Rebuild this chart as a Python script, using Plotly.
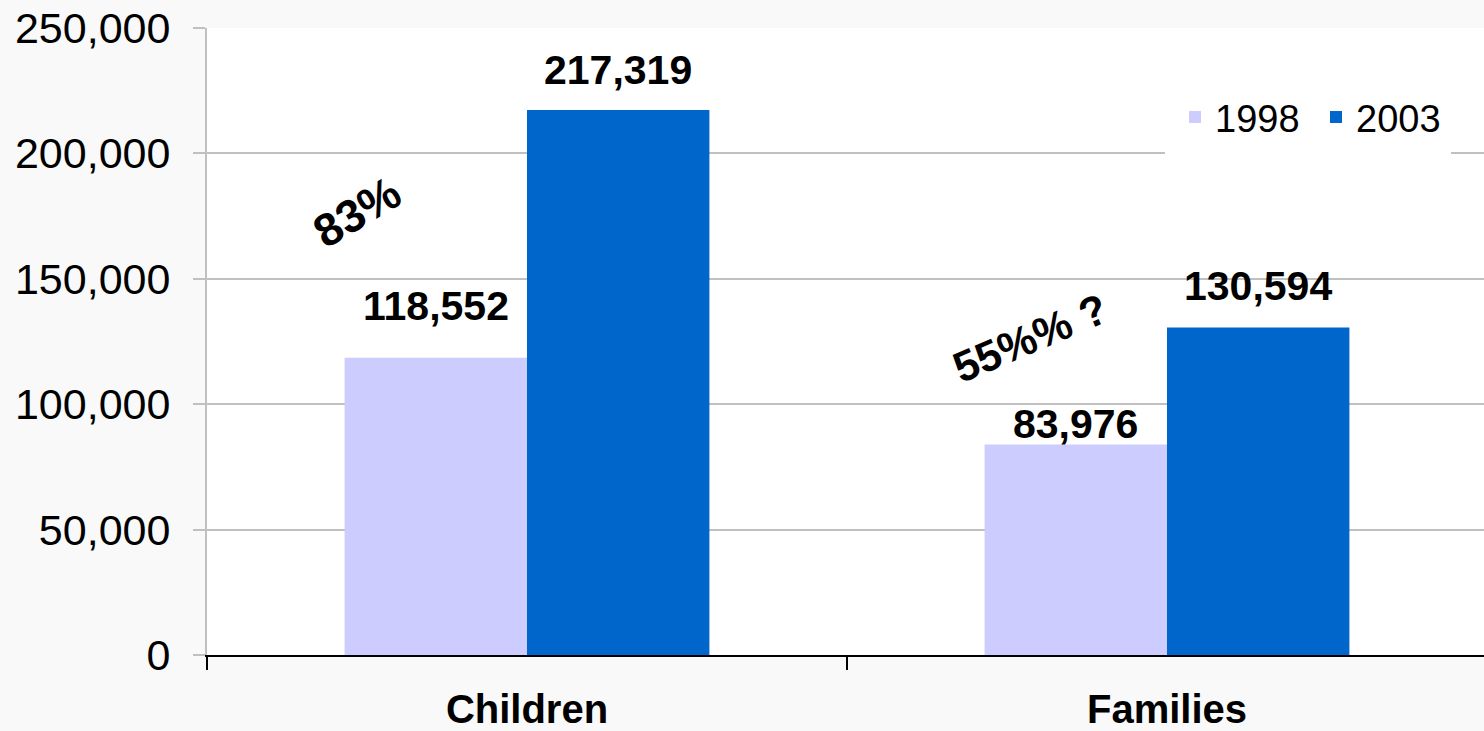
import plotly.graph_objects as go

# ---- data ----
categories = ["Children", "Families"]
years = ["1998", "2003"]
values_1998 = [118552, 83976]
values_2003 = [217319, 130594]
y_ticks = [0, 50000, 100000, 150000, 200000, 250000]
growth_labels = ["83%", "55%% ?"]

# ---- styles / positions ----
colors = ["#CCCCFF", "#0066CC"]
label_lift = [[52, 20], [40, 41]]          # px above bar top, per series / category
growth_x = [-0.266, 0.786]                  # category units
growth_y = [176600, 126400]                 # y units
growth_angle = [-31, -23]
growth_size = [46, 43]

FONT = "Liberation Sans, Arial, sans-serif"
W, H = 1484, 731
ML, MR, MT, MB = 207, 0, 28, 76
BARGAP = 0.43
CAT_PX = 640
plot_w = W - ML - MR
plot_h = H - MT - MB
half = (1 - BARGAP) / 4

fig = go.Figure()
series = [values_1998, values_2003]
for name, vals, col in zip(years, series, colors):
    fig.add_bar(name=name, x=categories, y=vals, marker_color=col,
                marker_line_width=0, hoverinfo="skip")

annotations = []
for s, vals in enumerate(series):
    off = -half if s == 0 else half
    for i, v in enumerate(vals):
        annotations.append(dict(
            x=i + off, y=v, xref="x", yref="y", text=f"{v:,}",
            showarrow=False, yanchor="middle", yshift=label_lift[s][i],
            font=dict(family=FONT, size=41, color="black", weight="bold")))

for t, gx, gy, ang, fs in zip(growth_labels, growth_x, growth_y, growth_angle, growth_size):
    annotations.append(dict(
        x=gx, y=gy, xref="x", yref="y", text=t, showarrow=False,
        textangle=ang,
        font=dict(family=FONT, size=fs, color="black", weight="bold")))

# white backing behind the legend (hides the grid line like the reference)
legend_box = dict(type="rect", xref="paper", yref="paper",
                  x0=(1165 - ML) / plot_w, x1=(1451 - ML) / plot_w,
                  y0=(H - MB - 166) / plot_h, y1=(H - MB - 92) / plot_h,
                  fillcolor="white", line=dict(width=0), layer="above")

fig.update_layout(
    width=W, height=H,
    margin=dict(l=ML, r=MR, t=MT, b=MB, pad=0, autoexpand=False),
    paper_bgcolor="#f9f9f9",
    plot_bgcolor="white",
    barmode="group", bargap=BARGAP, bargroupgap=0,
    font=dict(family=FONT, color="black"),
    showlegend=True,
    legend=dict(orientation="h", x=(1175 - ML) / plot_w, xanchor="left",
                y=0.908, yanchor="top", bgcolor="rgba(0,0,0,0)", borderwidth=0,
                entrywidth=96, entrywidthmode="pixels",
                font=dict(family=FONT, size=38, color="black"),
                traceorder="normal"),
    shapes=[legend_box],
    annotations=annotations,
    xaxis=dict(type="category", range=[-0.5, -0.5 + plot_w / CAT_PX],
               automargin=False,
               tickson="boundaries", ticks="outside", ticklen=13,
               tickwidth=2, tickcolor="black", showline=True,
               linecolor="black", linewidth=2, showgrid=False,
               ticklabelstandoff=18,
               tickfont=dict(family=FONT, size=40, color="black", weight="bold")),
    yaxis=dict(range=[0, 250000], tickvals=y_ticks, tickformat=",",
               automargin=False,
               showgrid=True, gridcolor="#c0c0c0", gridwidth=2,
               showline=True, linecolor="#c0c0c0", linewidth=2,
               ticks="outside", ticklen=12, tickwidth=2, tickcolor="#c0c0c0",
               zeroline=False, ticklabelstandoff=14,
               tickfont=dict(family=FONT, size=43, color="black")),
)

fig.write_html("out.html", config={"displayModeBar": False},
               post_script="document.body.style.margin='0';"
                           "document.body.style.overflow='hidden';")
